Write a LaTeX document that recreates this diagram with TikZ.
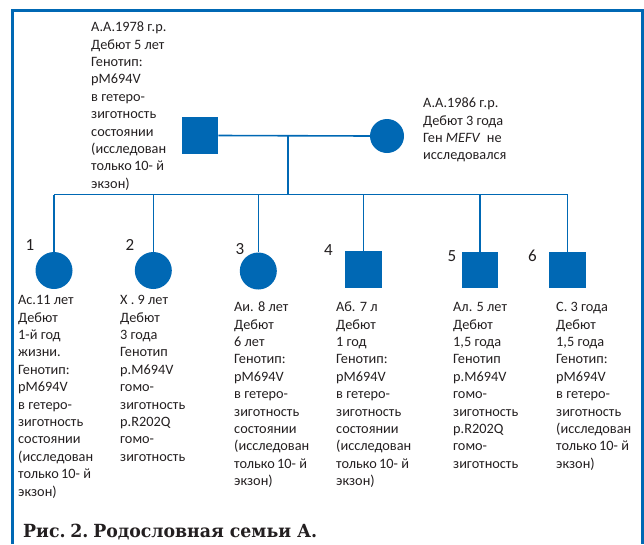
\documentclass[tikz,border=0pt]{standalone}
\usepackage{fontspec}
\setmainfont{Carlito}
\newfontfamily\capfont{DejaVu Serif Condensed}
\usepackage{graphicx}
\definecolor{pblue}{RGB}{0,104,180}
\definecolor{textc}{RGB}{35,31,32}
\begin{document}
\begin{tikzpicture}[x=1pt,y=-1pt,
  frame/.style={draw=pblue,line width=3pt},
  link/.style={draw=pblue,line width=1.6pt},
  male/.style={rectangle,fill=pblue,draw=none,minimum size=36.5pt,inner sep=0},
  female/.style={circle,fill=pblue,draw=none,minimum size=37pt,inner sep=0},
  txt/.style={anchor=north west,inner sep=0,align=left,text=textc,font=\fontsize{14.3}{17.4}\selectfont},
  num/.style={anchor=center,inner sep=0,text=textc,font=\fontsize{17}{20}\selectfont},
  caption/.style={anchor=base west,inner sep=0,text=textc,font=\capfont\bfseries}]
\useasboundingbox (0,0) rectangle (644,544);
% frame
\draw[frame] (12.5,544) -- (12.5,10.5) -- (642,10.5) -- (642,544);
% parents
\node[male] (father) at (200,135.5) {};
\node[female,minimum size=34pt] (mother) at (387,136) {};
\coordinate (mid) at (288,135.5);
\coordinate (sib) at (288,194.5);
\coordinate (sibL) at (54,194.5);
\coordinate (sibR) at (567.5,194.5);
\draw[link] (father.east) -- (mother.west);
\draw[link] (mid) -- (sib);
\draw[link] (sibL) -- (sibR);
% children
\node[female] (c1) at (54,270.5) {};
\node[female] (c2) at (153.3,270.5) {};
\node[female] (c3) at (258.3,271) {};
\node[male] (c4) at (363.5,269.5) {};
\node[male] (c5) at (480,270) {};
\node[male] (c6) at (567.5,270) {};
\foreach \c in {c1,c2,c3,c4,c5,c6}{
  \draw[link] (\c.north |- sibL) -- (\c.north);
}
% numbers
\node[num] (n1) at (30,244.7) {1};
\node[num] (n2) at (130,244.5) {2};
\node[num] (n3) at (240,249.3) {3};
\node[num] (n4) at (328.5,250.5) {4};
\node[num] (n5) at (452,255.7) {5};
\node[num] (n6) at (532.5,255.7) {6};
% texts
\node[txt] (tf) at (91,19.3) {\strut А.А.1978 г.р.\\Дебют 5 лет\\Генотип:\\pM694V\\в гетеро-\\зиготность\\состоянии\\(исследован\\только\,10- й\\экзон)};
\node[txt] (tm) at (423,95.3) {\strut А.А.1986 г.р.\\Дебют 3 года\\Ген \textit{MEFV}\ \ не\\исследовался};
\node[txt] (t1) at (18,292.3) {\strut Ас.11 лет\\Дебют\\1-й год\\жизни.\\Генотип:\\pM694V\\в гетеро-\\зиготность\\состоянии\\(исследован\\только\,10- й\\экзон)};
\node[txt] (t2) at (120,292.3) {\strut Х . 9 лет\\Дебют\\3 года\\Генотип\\p.M694V\\гомо-\\зиготность\\p.R202Q\\гомо-\\зиготность};
\node[txt] (t3) at (234,299.3) {\strut Аи. 8 лет\\Дебют\\6 лет\\Генотип:\\pM694V\\в гетеро-\\зиготность\\состоянии\\(исследован\\только\,10- й\\экзон)};
\node[txt] (t4) at (336,299.3) {\strut Аб. 7 л\\Дебют\\1 год\\Генотип:\\pM694V\\в гетеро-\\зиготность\\состоянии\\(исследован\\только\,10- й\\экзон)};
\node[txt] (t5) at (453,299.3) {\strut Ал. 5 лет\\Дебют\\1,5 года\\Генотип\\p.M694V\\гомо-\\зиготность\\p.R202Q\\гомо-\\зиготность};
\node[txt] (t6) at (556,299.3) {\strut С. 3 года\\Дебют\\1,5 года\\Генотип:\\pM694V\\в гетеро-\\зиготность\\(исследован\\только\,10- й\\экзон)};
% caption
\node[caption] (cap) at (23,537) {\resizebox{294pt}{13.4pt}{Рис.\kern0.25em2.\kern0.25emРодословная семьи А.}};
\end{tikzpicture}
\end{document}
